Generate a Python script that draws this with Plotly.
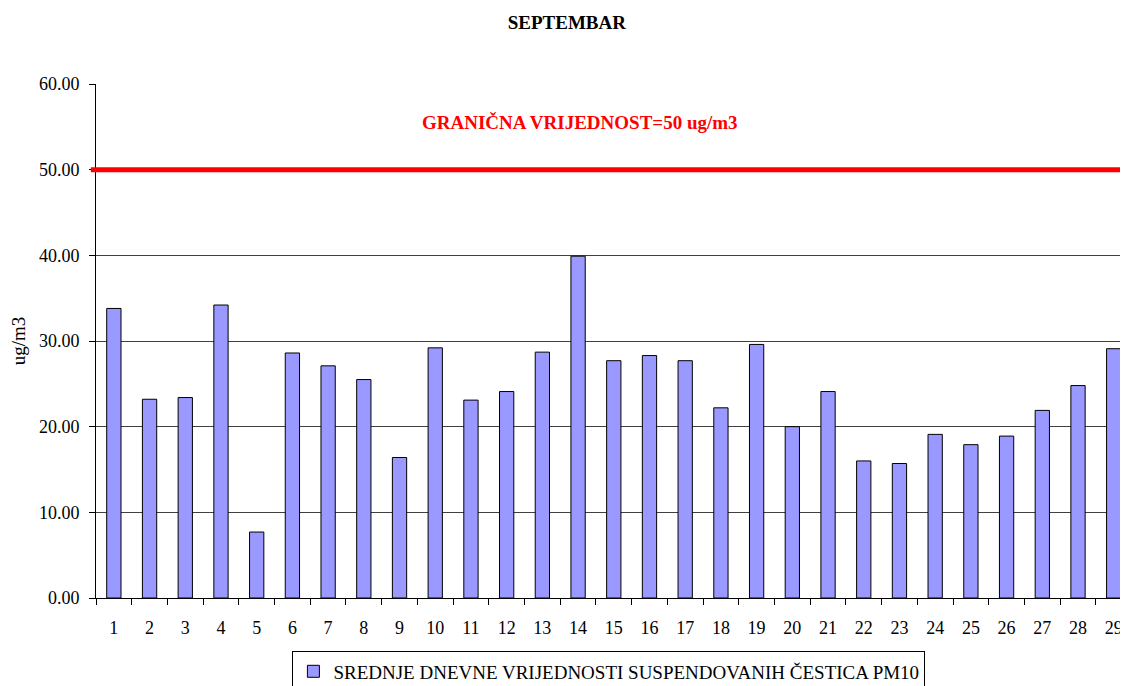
import plotly.graph_objects as go

days = [str(d) for d in range(1, 30)]
pm10 = [33.8, 23.2, 23.4, 34.2, 7.7, 28.6, 27.1, 25.5, 16.4, 29.2,
        23.1, 24.1, 28.7, 39.9, 27.7, 28.3, 27.7, 22.2, 29.6, 20.0,
        24.1, 16.0, 15.7, 19.1, 17.9, 18.9, 21.9, 24.8, 29.1]
limit_value = 50
y_ticks = [0, 10, 20, 30, 40, 50, 60]
series_name = "SREDNJE DNEVNE VRIJEDNOSTI SUSPENDOVANIH ČESTICA PM10"
limit_label = "GRANIČNA VRIJEDNOST=50 ug/m3"

SERIF = "Liberation Serif, Times New Roman, serif"

fig = go.Figure()
fig.add_trace(go.Bar(
    x=days, y=pm10, name=series_name,
    marker=dict(color="#9999FF", line=dict(color="#000000", width=1)),
    width=0.4, showlegend=True,
))

fig.add_shape(type="line", xref="paper", yref="y",
              x0=-0.005, x1=1, y0=limit_value, y1=limit_value,
              line=dict(color="#FF0000", width=5), layer="above")

fig.add_annotation(text="<b>" + limit_label + "</b>", xref="paper", yref="y",
                   x=0.469, y=55.5, showarrow=False,
                   font=dict(family=SERIF, size=19, color="#FF0000"))

fig.update_layout(
    width=1120, height=678,
    margin=dict(l=88, r=0, t=76, b=88, autoexpand=False),
    paper_bgcolor="white", plot_bgcolor="white",
    title=dict(text="<b>SEPTEMBAR</b>", x=0.499, xref="container", xanchor="center",
               y=0.979, yref="container", yanchor="middle",
               font=dict(family=SERIF, size=19, color="#000000")),
    showlegend=True,
    legend=dict(orientation="h", x=0.497, xanchor="center", y=-0.104, yanchor="top",
                bordercolor="#000000", borderwidth=1, bgcolor="white",
                font=dict(family=SERIF, size=19, color="#000000"),
                itemwidth=30),
    xaxis=dict(type="category", range=[-0.5, 28.4], showline=True, linecolor="#000000",
               linewidth=1, ticks="outside", tickson="boundaries", ticklen=6,
               tickcolor="#000000", showgrid=False, ticklabelstandoff=13,
               tickfont=dict(family=SERIF, size=18, color="#000000")),
    yaxis=dict(range=[0, 60], tickvals=y_ticks, tickformat=".2f", showline=True,
               linecolor="#000000", linewidth=1, ticks="outside", ticklen=6,
               tickcolor="#000000", showgrid=True, gridcolor="#404040", gridwidth=1,
               zeroline=False, ticklabelstandoff=6,
               title=dict(text="ug/m3", font=dict(family=SERIF, size=19, color="#000000"),
                          standoff=10),
               tickfont=dict(family=SERIF, size=18, color="#000000")),
    font=dict(family=SERIF),
)

fig.write_html("out.html")
